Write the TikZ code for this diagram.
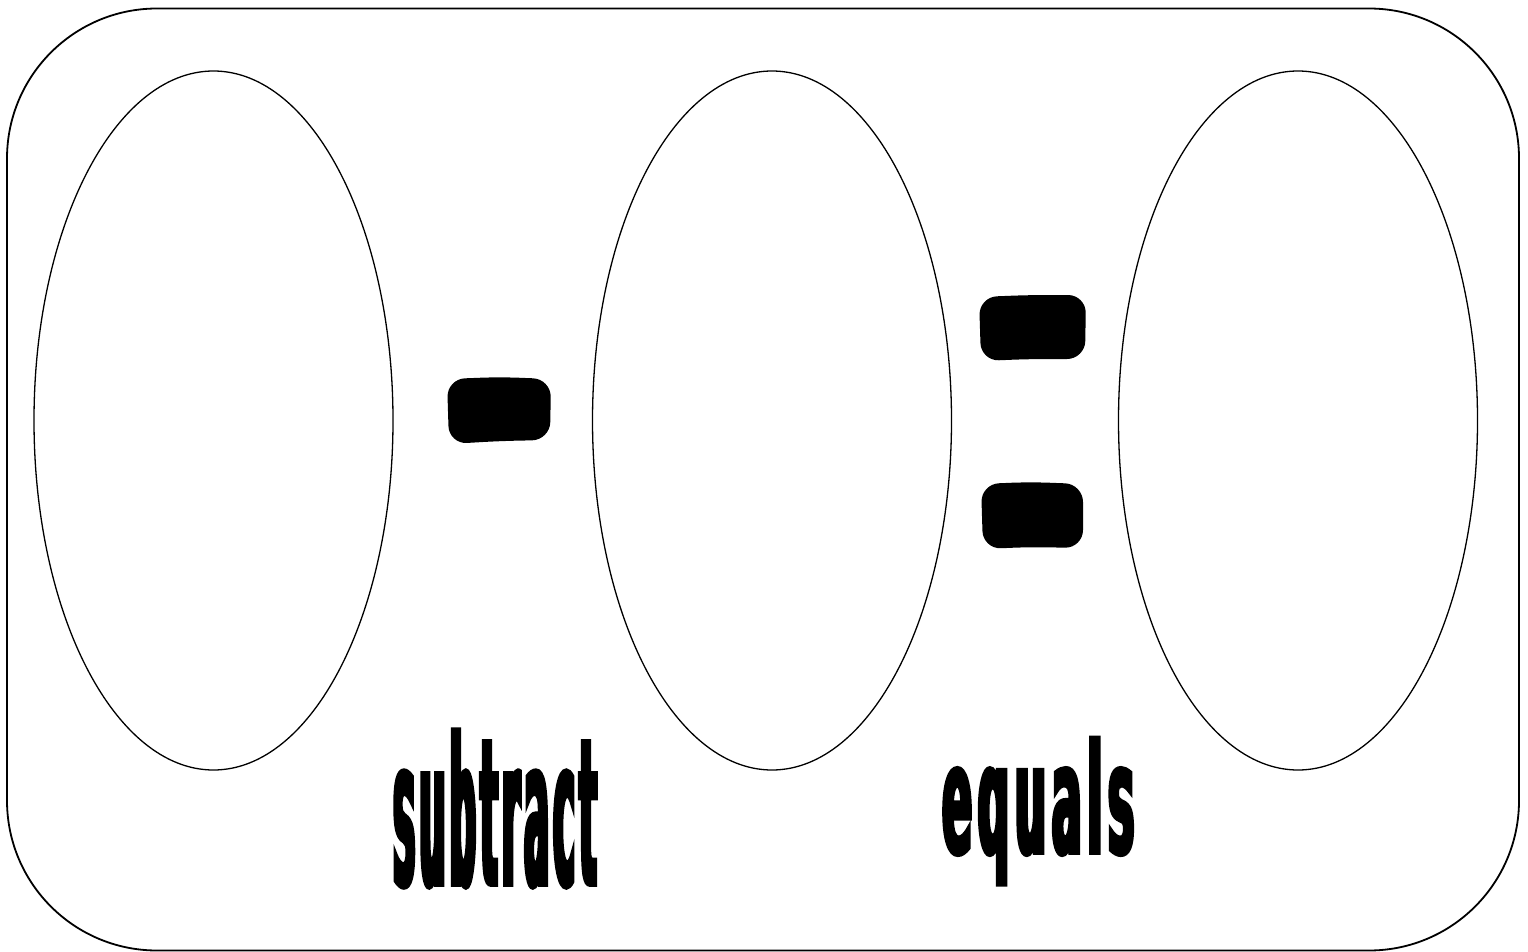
\documentclass[tikz,border=0pt]{standalone}
\usepackage{fontspec}
\usetikzlibrary{shapes.geometric}
% heavy condensed lettering for the two labels
\newfontfamily\wordbig{DejaVu Sans Bold}[FakeStretch=0.18,FakeBold=1.8,LetterSpace=2]
\newfontfamily\wordsmall{DejaVu Sans Bold}[FakeStretch=0.29,FakeBold=2.5,LetterSpace=3.7]
\begin{document}
\begin{tikzpicture}[x=1pt,y=-1pt,
  frame/.style={draw=black,line width=1.8pt,rounded corners=150pt,inner sep=0pt},
  slot/.style={ellipse,draw=black,line width=1.3pt,inner sep=0pt,
               minimum width=359pt,minimum height=699pt},
  blob/.style={fill=black,rounded corners=18pt},
  word/.style={inner sep=0pt,anchor=base west}]
\useasboundingbox (0,0) rectangle (1528,952);

% outer rounded panel
\node[frame,minimum width=1512pt,minimum height=942pt] (panel) at (763,479.5) {};

% three empty number slots
\node[slot] (first)  at (213.5,420.5) {};
\node[slot] (second) at (772,420.5) {};
\node[slot] (third)  at (1298,420.5) {};

% minus sign
\fill[blob] (447,379) -- (500,377) -- (551,379) -- (550,440) -- (500,441) -- (449,444) -- cycle;

% equals sign
\fill[blob] (979,297) -- (1030,295) -- (1086,295) -- (1085,359) -- (1030,359) -- (981,361) -- cycle;
\fill[blob] (981,484) -- (1030,482) -- (1083,484) -- (1083,548) -- (1030,547) -- (983,549) -- cycle;

% labels
\node[word] (subtract) at (393,885) {\fontsize{205}{205}\wordbig subtract};
\node[word] (equals)   at (942,853) {\fontsize{152}{152}\wordsmall equals};
\end{tikzpicture}
\end{document}
